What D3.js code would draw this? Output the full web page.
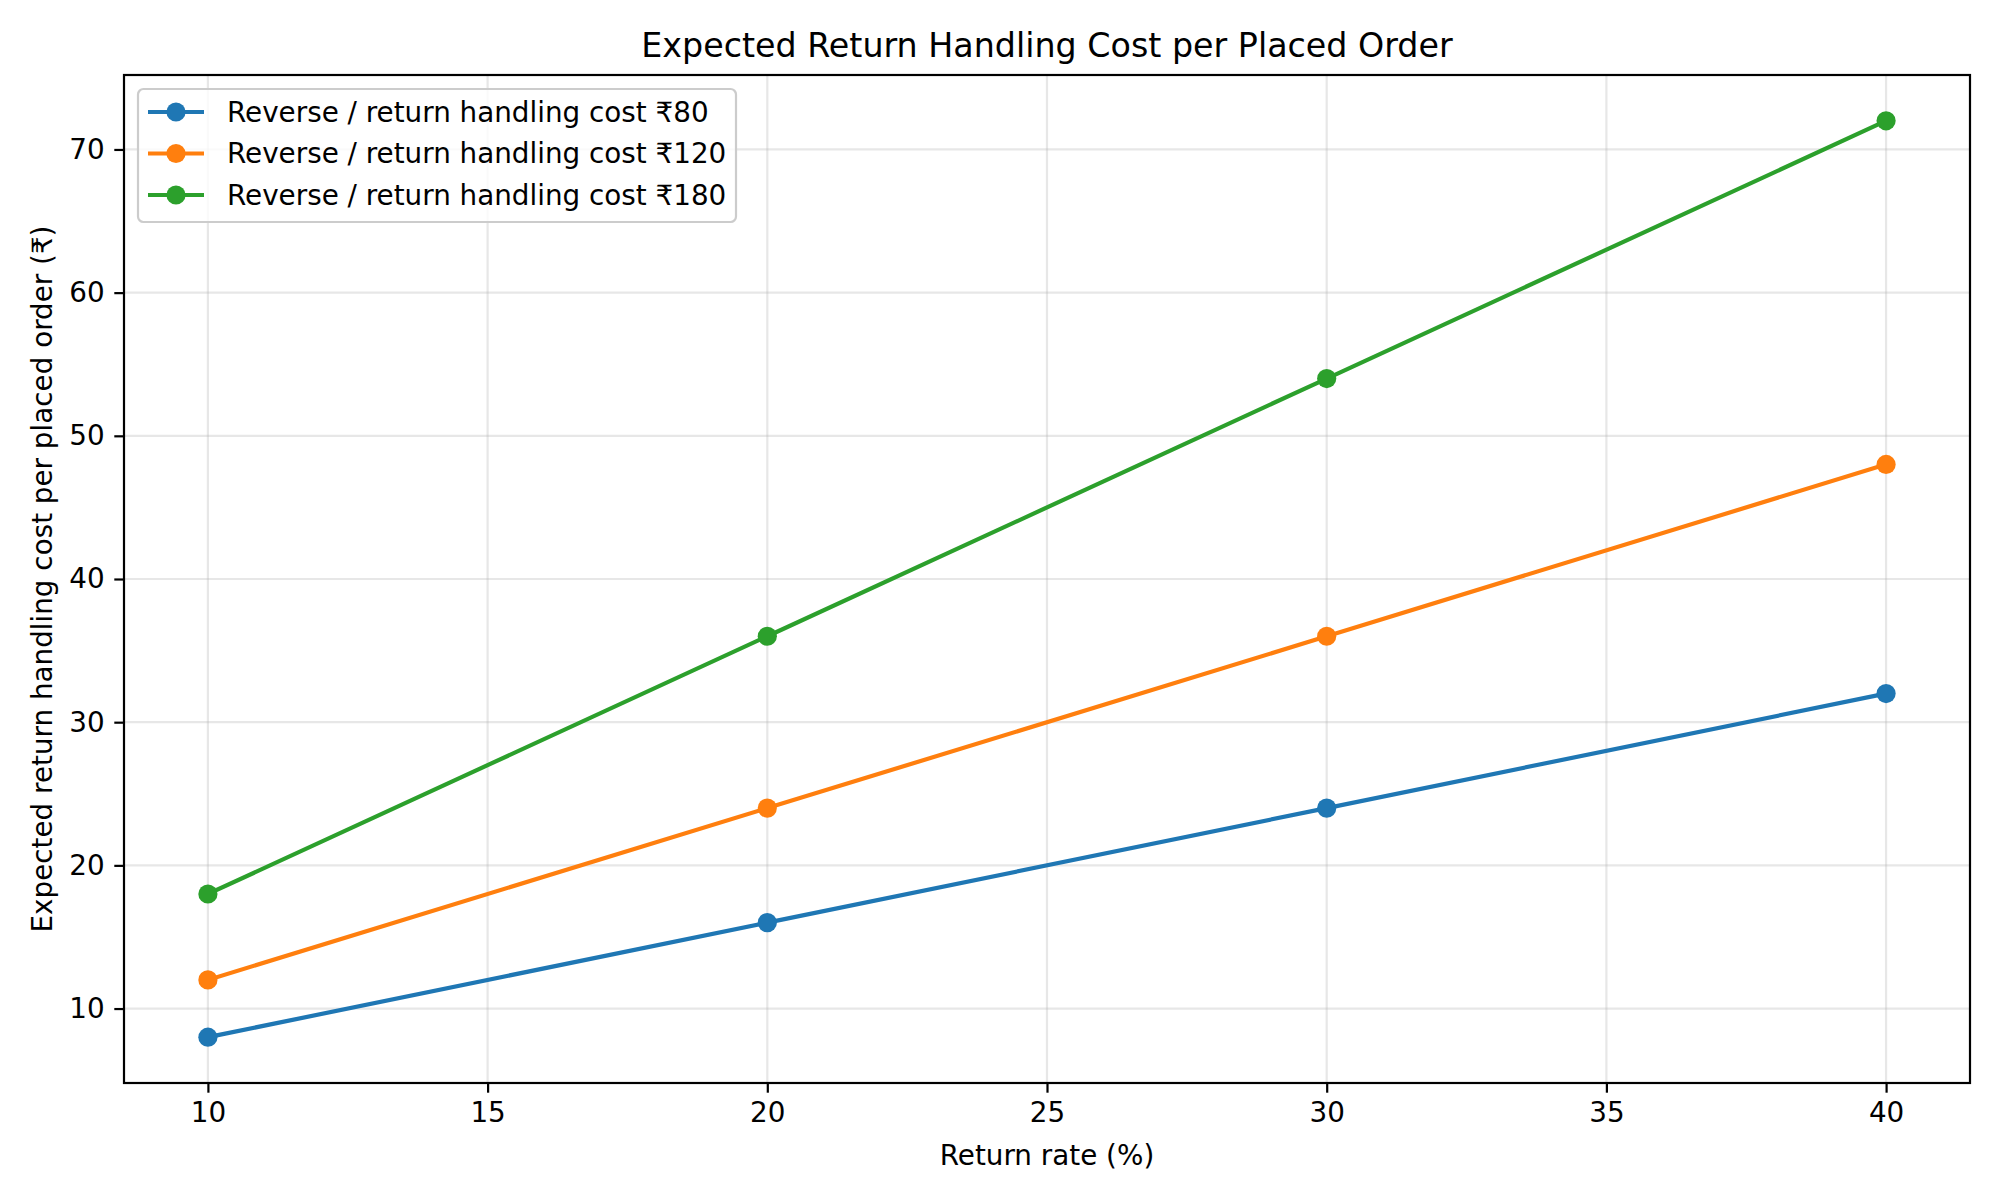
<!DOCTYPE html>
<html>
<head>
<meta charset="utf-8">
<script src="https://cdn.jsdelivr.net/npm/d3@7"></script>
<style>
  body { margin: 0; background: #fff; }
  text { font-family: "DejaVu Sans", sans-serif; }
</style>
</head>
<body>
<div id="chart"></div>
<script>
// data
const returnRates = [10, 20, 30, 40];
const cost80 = [8, 16, 24, 32];
const cost120 = [12, 24, 36, 48];
const cost180 = [18, 36, 54, 72];
const seriesNames = [
    'Reverse / return handling cost ₹80',
    'Reverse / return handling cost ₹120',
    'Reverse / return handling cost ₹180'
];
const seriesColors = ['#1f77b4', '#ff7f0e', '#2ca02c'];
const xTicks = [10, 15, 20, 25, 30, 35, 40];
const yTicks = [10, 20, 30, 40, 50, 60, 70];

const width = 2000;
const height = 1200;
const margin = { top: 75, right: 30, bottom: 117, left: 124 };
const plotW = width - margin.left - margin.right;
const plotH = height - margin.top - margin.bottom;

const svg = d3.select('#chart')
    .append('svg')
    .attr('width', width)
    .attr('height', height);

const g = svg.append('g')
    .attr('transform', `translate(${margin.left},${margin.top})`);

const x = d3.scaleLinear().domain([8.5, 41.5]).range([0, plotW]);
const y = d3.scaleLinear().domain([4.8, 75.2]).range([plotH, 0]);

// grid
g.append('g')
    .selectAll('line')
    .data(xTicks)
    .enter().append('line')
    .attr('x1', d => x(d)).attr('x2', d => x(d))
    .attr('y1', 0).attr('y2', plotH)
    .attr('stroke', '#b0b0b0').attr('stroke-opacity', 0.3).attr('stroke-width', 2.2);

g.append('g')
    .selectAll('line')
    .data(yTicks)
    .enter().append('line')
    .attr('y1', d => y(d)).attr('y2', d => y(d))
    .attr('x1', 0).attr('x2', plotW)
    .attr('stroke', '#b0b0b0').attr('stroke-opacity', 0.3).attr('stroke-width', 2.2);

// axes
const xAxis = g.append('g')
    .attr('transform', `translate(0,${plotH})`)
    .call(d3.axisBottom(x).tickValues(xTicks).tickSize(9.7).tickPadding(9.7).tickFormat(d3.format('d')));
const yAxis = g.append('g')
    .call(d3.axisLeft(y).tickValues(yTicks).tickSize(9.7).tickPadding(9.7).tickFormat(d3.format('d')));

[xAxis, yAxis].forEach(a => {
    a.select('.domain').remove();
    a.selectAll('.tick line').attr('stroke', '#000').attr('stroke-width', 2.2);
    a.selectAll('.tick text')
        .attr('font-size', 27.8)
        .attr('fill', '#000')
        .style('font-family', '"DejaVu Sans", sans-serif');
});

// frame
g.append('rect')
    .attr('x', 0).attr('y', 0)
    .attr('width', plotW).attr('height', plotH)
    .attr('fill', 'none')
    .attr('stroke', '#000')
    .attr('stroke-width', 2.2);

// lines
const allSeries = [cost80, cost120, cost180];
const line = d3.line()
    .x((d, i) => x(returnRates[i]))
    .y(d => y(d));

allSeries.forEach((vals, s) => {
    g.append('path')
        .datum(vals)
        .attr('d', line)
        .attr('fill', 'none')
        .attr('stroke', seriesColors[s])
        .attr('stroke-width', 4.2)
        .attr('stroke-linecap', 'square');

    g.append('g')
        .selectAll('circle')
        .data(vals)
        .enter().append('circle')
        .attr('cx', (d, i) => x(returnRates[i]))
        .attr('cy', d => y(d))
        .attr('r', 9.6)
        .attr('fill', seriesColors[s]);
});

// legend
const legend = g.append('g').attr('transform', 'translate(14,14)');
legend.append('rect')
    .attr('x', 0).attr('y', 0)
    .attr('width', 598).attr('height', 133)
    .attr('rx', 5.5)
    .attr('fill', '#fff').attr('fill-opacity', 0.8)
    .attr('stroke', '#cccccc').attr('stroke-width', 2.2);

seriesNames.forEach((name, i) => {
    const row = legend.append('g').attr('transform', `translate(0,${23 + i * 41.5})`);
    row.append('line')
        .attr('x1', 10).attr('x2', 66)
        .attr('y1', 0).attr('y2', 0)
        .attr('stroke', seriesColors[i]).attr('stroke-width', 4.2);
    row.append('circle')
        .attr('cx', 38).attr('cy', 0).attr('r', 9.6)
        .attr('fill', seriesColors[i]);
    row.append('text')
        .attr('x', 89).attr('y', 0)
        .attr('dy', '0.35em')
        .attr('font-size', 27.8)
        .text(name);
});

// title and labels
svg.append('text')
    .attr('x', margin.left + plotW / 2)
    .attr('y', 57)
    .attr('text-anchor', 'middle')
    .attr('font-size', 33.3)
    .text('Expected Return Handling Cost per Placed Order');

svg.append('text')
    .attr('x', margin.left + plotW / 2)
    .attr('y', 1165)
    .attr('text-anchor', 'middle')
    .attr('font-size', 27.8)
    .text('Return rate (%)');

svg.append('text')
    .attr('transform', `translate(52,${margin.top + plotH / 2}) rotate(-90)`)
    .attr('text-anchor', 'middle')
    .attr('font-size', 27.8)
    .text('Expected return handling cost per placed order (₹)');
</script>
</body>
</html>
